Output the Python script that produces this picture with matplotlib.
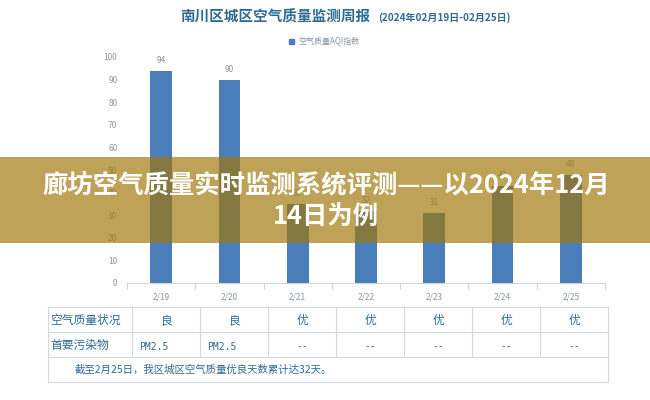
import matplotlib.pyplot as plt
from matplotlib.patches import Rectangle
from matplotlib.lines import Line2D
import numpy as np

plt.rcParams['font.family'] = ['Noto Sans CJK SC', 'DejaVu Sans']

# data
dates = ['2/19', '2/20', '2/21', '2/22', '2/23', '2/24', '2/25']
aqi = [94, 90, 35, 32, 31, 43, 48]
status = ['良', '良', '优', '优', '优', '优', '优']
pollutant = ['PM2.5', 'PM2.5', '--', '--', '--', '--', '--']
row_names = ['空气质量状况', '首要污染物']
note = '截至2月25日，我区城区空气质量优良天数累计达32天。'
title = '南川区城区空气质量监测周报'
subtitle = '(2024年02月19日-02月25日)'
legend_label = '空气质量AQI指数'
banner = ['廊坊空气质量实时监测系统评测——以2024年12月', '14日为例']

W, H = 650, 400
fig = plt.figure(figsize=(6.5, 4), dpi=100)
fig.patch.set_facecolor('white')

bar_col = '#4a7ebb'
txt_col = '#2f6a93'
gray = '#8a96a3'

# bar chart
ax = fig.add_axes([127 / W, 1 - 283 / H, (605 - 127) / W, (283 - 57) / H])
x = np.arange(len(dates))
bars = ax.bar(x, aqi, width=0.32, color=bar_col, zorder=2)
for xi, v in zip(x, aqi):
    ax.text(xi, v + 2.5, str(v), ha='center', va='bottom', fontsize=6, color=gray)
ax.set_xlim(-0.5, len(dates) - 0.5)
ax.set_ylim(0, 100)
ax.set_yticks(range(0, 101, 10))
ax.tick_params(axis='y', length=0, labelsize=6, labelcolor=gray, pad=7)
ax.set_xticks(x)
ax.set_xticklabels(dates)
ax.tick_params(axis='x', which='major', length=0, labelsize=6, labelcolor=gray, pad=7)
ax.set_xticks(np.arange(-0.5, len(dates), 1), minor=True)
ax.tick_params(axis='x', which='minor', length=4, color='#d0d5da', width=0.8)
for s in ['top', 'right', 'left']:
    ax.spines[s].set_visible(False)
ax.spines['bottom'].set_color('#d0d5da')
ax.spines['bottom'].set_linewidth(0.8)

# title and legend
fig.text(370 / W, 1 - 17 / H, title, ha='right', va='center', fontsize=10.5,
         fontweight='bold', color=txt_col)
fig.text(378 / W, 1 - 18 / H, subtitle, ha='left', va='center', fontsize=7.2,
         fontweight='bold', color=txt_col)
fig.patches.append(Rectangle((289 / W, 1 - 44 / H), 5 / W, 5 / H,
                             transform=fig.transFigure, color=bar_col))
fig.text(298 / W, 1 - 41 / H, legend_label, ha='left', va='center', fontsize=5.8, color=gray)

# table
tab_left, tab_right = 48, 608
col0 = 132
colw = (tab_right - col0) / len(dates)
row_y = [307, 332, 357, 382]
line_col = '#d3d8dc'
for yy in row_y:
    fig.add_artist(Line2D([tab_left / W, tab_right / W], [1 - yy / H, 1 - yy / H],
                          color=line_col, lw=0.8, transform=fig.transFigure))
for xx in [tab_left, tab_right]:
    fig.add_artist(Line2D([xx / W, xx / W], [1 - row_y[0] / H, 1 - row_y[3] / H],
                          color=line_col, lw=0.8, transform=fig.transFigure))
for i in range(len(dates)):
    xx = col0 + i * colw
    fig.add_artist(Line2D([xx / W, xx / W], [1 - row_y[0] / H, 1 - row_y[2] / H],
                          color=line_col, lw=0.8, transform=fig.transFigure))

for r, name in enumerate(row_names):
    yc = (row_y[r] + row_y[r + 1]) / 2 + 1
    fig.text(50 / W, 1 - yc / H, name, ha='left', va='center', fontsize=8.5, color=txt_col)
for i in range(len(dates)):
    xc = col0 + (i + 0.5) * colw
    yc = (row_y[0] + row_y[1]) / 2 + 1
    fig.text(xc / W, 1 - yc / H, status[i], ha='center', va='center', fontsize=8.5, color=txt_col)
    yc = (row_y[1] + row_y[2]) / 2 + 2
    if pollutant[i] == '--':
        fig.text(xc / W, 1 - yc / H, pollutant[i], ha='center', va='center', fontsize=7,
                 color=txt_col, family='DejaVu Sans Mono')
    else:
        fig.text((col0 + i * colw + 7) / W, 1 - yc / H, pollutant[i], ha='left', va='center',
                 fontsize=7, color=txt_col, family='DejaVu Sans Mono')
fig.text(75 / W, 1 - 370 / H, note, ha='left', va='center', fontsize=7.5, color=txt_col)

# banner overlay
fig.patches.append(Rectangle((0, 1 - 243 / H), 1, 86 / H, transform=fig.transFigure,
                             facecolor='#a07608', alpha=0.68, zorder=5))
fig.text(326 / W, 1 - 185 / H, banner[0], ha='center', va='center', fontsize=18.3,
         fontweight='bold', color='white', zorder=6)
fig.text(326 / W, 1 - 217 / H, banner[1], ha='center', va='center', fontsize=18.3,
         fontweight='bold', color='white', zorder=6)

fig.savefig('out.png', dpi=100)
